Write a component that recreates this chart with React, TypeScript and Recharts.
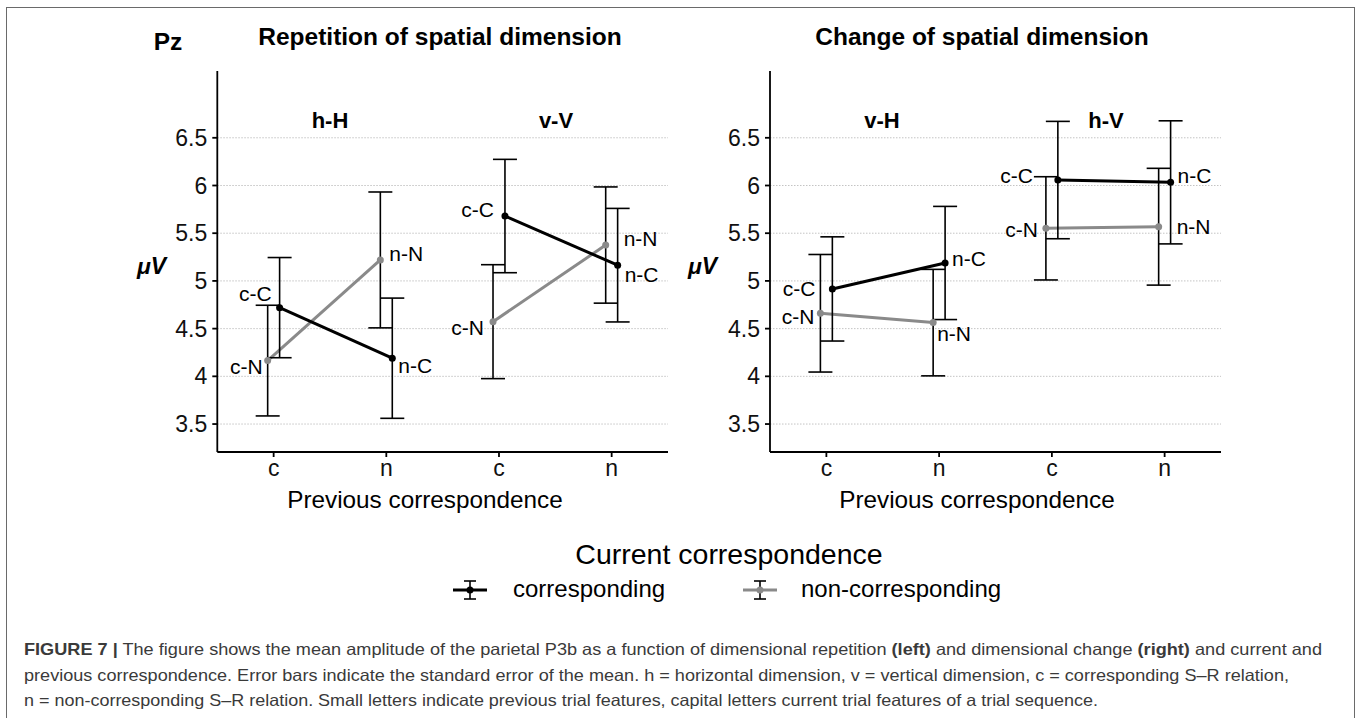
import React from 'react';
import { LineChart, Line, XAxis, YAxis, CartesianGrid, ErrorBar, LabelList } from 'recharts';

// ---------- data ----------
const previousLevels = ['c', 'n', 'c', 'n'];
const repetitionGroups = ['h-H', 'v-V'];
const changeGroups = ['v-H', 'h-V'];
const yTicks = [3.5, 4, 4.5, 5, 5.5, 6, 6.5];

// Repetition of spatial dimension (h-H: c, n ; v-V: c, n)
const repCorresponding = [4.72, 4.19, 5.68, 5.165];
const repCorrespondingSE = [0.525, 0.63, 0.594, 0.595];
const repNonCorresponding = [4.165, 5.22, 4.573, 5.376];
const repNonCorrespondingSE = [0.58, 0.712, 0.597, 0.609];

// Change of spatial dimension (v-H: c, n ; h-V: c, n)
const chgCorresponding = [4.916, 5.188, 6.057, 6.033];
const chgCorrespondingSE = [0.546, 0.593, 0.615, 0.645];
const chgNonCorresponding = [4.661, 4.563, 5.551, 5.568];
const chgNonCorrespondingSE = [0.616, 0.558, 0.541, 0.612];

// ---------- styling / layout config ----------
const FONT = "'Liberation Sans', Arial, Helvetica, sans-serif";
const BLACK = '#000000';
const GRAY = '#8a8a8a';
const DODGE = 0.053;

// label nudges [dx, dy] relative to the plotted point
const repNudges = {
  corr: [[-8, -14], [6, 7], [-11, -7], [7, 9]],
  non: [[-5, 6], [9, -6], [-9, 6], [18, -7]],
};
const chgNudges = {
  corr: [[-17, 0], [7, -4], [-25, -5], [7, -7]],
  non: [[-6, 3], [4, 11], [-8, 1], [18, 0]],
};

type Row = { x: number; y: number; se: number; label: string; idx: number };

function segments(values: number[], se: number[], current: string, dodge: number): Row[][] {
  const segs: Row[][] = [];
  for (let g = 0; g < 2; g++) {
    const rows: Row[] = [];
    for (let k = 0; k < 2; k++) {
      const i = g * 2 + k;
      rows.push({ x: i + 1 + dodge, y: values[i], se: se[i], label: `${previousLevels[i]}-${current}`, idx: i });
    }
    segs.push(rows);
  }
  return segs;
}

function makeLabel(data: Row[], nudges: number[][]) {
  return (props: any) => {
    const { x, y, index } = props;
    const row = data[index];
    if (!row) return null;
    const [dx, dy] = nudges[row.idx];
    const left = row.idx % 2 === 0;
    return (
      <text
        x={x + dx}
        y={y + dy}
        textAnchor={left ? 'end' : 'start'}
        dominantBaseline="central"
        fontSize={21}
        fill="#000"
        fontFamily={FONT}
      >
        {row.label}
      </text>
    );
  };
}

type PanelProps = {
  left: number;
  width: number;
  marginLeft: number;
  marginRight: number;
  corr: number[];
  corrSE: number[];
  non: number[];
  nonSE: number[];
  nudges: { corr: number[][]; non: number[][] };
};

function Panel(p: PanelProps) {
  const corrSegs = segments(p.corr, p.corrSE, 'C', DODGE);
  const nonSegs = segments(p.non, p.nonSE, 'N', -DODGE);
  const renderSeries = (segs: Row[][], color: string, nudges: number[][], key: string) =>
    segs.map((seg, g) => (
      <Line
        key={`${key}-${g}`}
        data={seg}
        dataKey="y"
        type="linear"
        stroke={color}
        strokeWidth={3}
        dot={{ r: 3.5, fill: color, stroke: color, strokeWidth: 0 }}
        activeDot={false}
        isAnimationActive={false}
        legendType="none"
      >
        <ErrorBar dataKey="se" width={12} stroke="#000" strokeWidth={1.6} direction="y" />
        <LabelList dataKey="label" content={makeLabel(seg, nudges)} />
      </Line>
    ));
  return (
    <div style={{ position: 'absolute', left: p.left, top: 0 }}>
      <LineChart
        width={p.width}
        height={530}
        margin={{ top: 71, right: p.marginRight, left: p.marginLeft, bottom: 38 }}
      >
        <CartesianGrid
          horizontal
          vertical={false}
          horizontalValues={yTicks}
          stroke="#c4c4c4"
          strokeDasharray="1.5 1.5"
          strokeWidth={1}
        />
        <XAxis
          dataKey="x"
          type="number"
          domain={[0.5, 4.5]}
          ticks={[1, 2, 3, 4]}
          tickFormatter={(v: number) => previousLevels[Math.round(v) - 1]}
          allowDataOverflow
          height={40}
          stroke="#000"
          strokeWidth={1.8}
          tickSize={5}
          tickMargin={3}
          tick={{ fontSize: 23, fill: '#111', fontFamily: FONT }}
        />
        <YAxis
          type="number"
          domain={[3.207, 7.2]}
          ticks={yTicks}
          allowDataOverflow
          width={60}
          stroke="#000"
          strokeWidth={1.8}
          tickSize={5}
          tickMargin={5}
          tick={{ fontSize: 23, fill: '#111', fontFamily: FONT }}
        />
        {renderSeries(nonSegs, GRAY, p.nudges.non, 'non')}
        {renderSeries(corrSegs, BLACK, p.nudges.corr, 'corr')}
      </LineChart>
    </div>
  );
}

function LegendSymbol({ cx, cy, color }: { cx: number; cy: number; color: string }) {
  return (
    <g>
      <line x1={cx - 17} x2={cx + 17} y1={cy} y2={cy} stroke={color} strokeWidth={3} />
      <line x1={cx} x2={cx} y1={cy - 9} y2={cy + 9} stroke="#000" strokeWidth={1.6} />
      <line x1={cx - 6} x2={cx + 6} y1={cy - 9} y2={cy - 9} stroke="#000" strokeWidth={1.6} />
      <line x1={cx - 6} x2={cx + 6} y1={cy + 9} y2={cy + 9} stroke="#000" strokeWidth={1.6} />
      <circle cx={cx} cy={cy} r={3.5} fill={color} />
    </g>
  );
}

export default function App() {
  const captionColor = '#3a3a3a';
  return (
    <div
      style={{
        position: 'absolute',
        left: 0,
        top: 0,
        width: 1358,
        height: 718,
        overflow: 'hidden',
        background: '#fff',
        fontFamily: FONT,
      }}
    >
      {/* figure frame */}
      <div
        style={{
          position: 'absolute',
          left: 6,
          top: 7,
          width: 1349,
          height: 760,
          border: '1.5px solid #6a6a6a',
          boxSizing: 'border-box',
        }}
      />
      <Panel
        left={0}
        width={690}
        marginLeft={157.3}
        marginRight={22}
        corr={repCorresponding}
        corrSE={repCorrespondingSE}
        non={repNonCorresponding}
        nonSE={repNonCorrespondingSE}
        nudges={repNudges}
      />
      <Panel
        left={690}
        width={620}
        marginLeft={20}
        marginRight={89}
        corr={chgCorresponding}
        corrSE={chgCorrespondingSE}
        non={chgNonCorresponding}
        nonSE={chgNonCorrespondingSE}
        nudges={chgNudges}
      />
      <svg
        width={1358}
        height={718}
        style={{ position: 'absolute', left: 0, top: 0, pointerEvents: 'none' }}
        fontFamily={FONT}
      >
        {/* titles */}
        <text x={168} y={50} textAnchor="middle" fontSize={24.5} fontWeight="bold" fill="#000">Pz</text>
        <text x={440} y={45} textAnchor="middle" fontSize={24.5} fontWeight="bold" fill="#000">Repetition of spatial dimension</text>
        <text x={982} y={45} textAnchor="middle" fontSize={24.5} fontWeight="bold" fill="#000">Change of spatial dimension</text>
        {/* facet labels */}
        <text x={330} y={128} textAnchor="middle" fontSize={22} fontWeight="bold" fill="#000">{repetitionGroups[0]}</text>
        <text x={556} y={128} textAnchor="middle" fontSize={22} fontWeight="bold" fill="#000">{repetitionGroups[1]}</text>
        <text x={882} y={128} textAnchor="middle" fontSize={22} fontWeight="bold" fill="#000">{changeGroups[0]}</text>
        <text x={1106} y={128} textAnchor="middle" fontSize={22} fontWeight="bold" fill="#000">{changeGroups[1]}</text>
        {/* y labels */}
        <text x={137} y={274} fontSize={23} fontWeight="bold" fontStyle="italic" fill="#000">μV</text>
        <text x={688} y={274} fontSize={23} fontWeight="bold" fontStyle="italic" fill="#000">μV</text>
        {/* x labels */}
        <text x={425} y={508} textAnchor="middle" fontSize={24.3} fill="#000">Previous correspondence</text>
        <text x={977} y={508} textAnchor="middle" fontSize={24.3} fill="#000">Previous correspondence</text>
        {/* legend */}
        <text x={729} y={564} textAnchor="middle" fontSize={28.5} fill="#000">Current correspondence</text>
        <LegendSymbol cx={470} cy={590} color={BLACK} />
        <text x={513} y={597} fontSize={24} fill="#000">corresponding</text>
        <LegendSymbol cx={760} cy={590} color={GRAY} />
        <text x={801} y={597} fontSize={24} fill="#000">non-corresponding</text>
        {/* caption */}
        <text x={24} y={655} fontSize={16.5} fill={captionColor} textLength={1298} lengthAdjust="spacingAndGlyphs">
          <tspan fontWeight="bold">FIGURE 7 |</tspan>
          <tspan> The figure shows the mean amplitude of the parietal P3b as a function of dimensional repetition </tspan>
          <tspan fontWeight="bold">(left)</tspan>
          <tspan> and dimensional change </tspan>
          <tspan fontWeight="bold">(right)</tspan>
          <tspan> and current and</tspan>
        </text>
        <text x={24} y={680.5} fontSize={16.5} fill={captionColor} textLength={1265} lengthAdjust="spacingAndGlyphs">
          previous correspondence. Error bars indicate the standard error of the mean. h = horizontal dimension, v = vertical dimension, c = corresponding S–R relation,
        </text>
        <text x={24} y={705.5} fontSize={16.5} fill={captionColor} textLength={1074} lengthAdjust="spacingAndGlyphs">
          n = non-corresponding S–R relation. Small letters indicate previous trial features, capital letters current trial features of a trial sequence.
        </text>
      </svg>
    </div>
  );
}
